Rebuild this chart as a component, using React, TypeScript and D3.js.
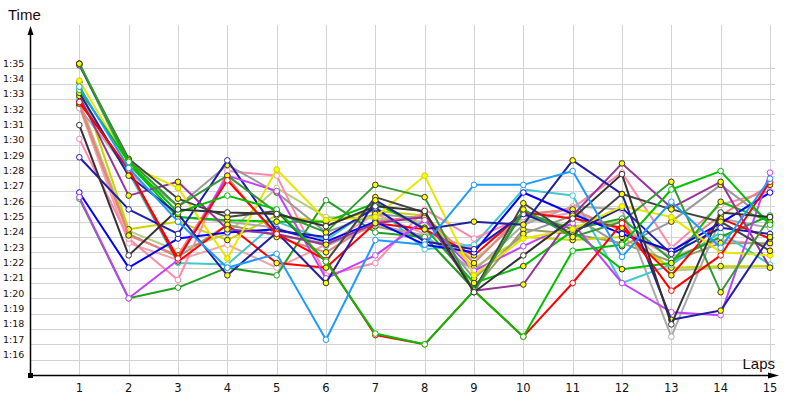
import React from "react";
import * as d3 from "d3";

const laps = [1, 2, 3, 4, 5, 6, 7, 8, 9, 10, 11, 12, 13, 14, 15];
const yTicks = [76, 77, 78, 79, 80, 81, 82, 83, 84, 85, 86, 87, 88, 89, 90, 91, 92, 93, 94, 95];
const fmt = (s: number) => `${Math.floor(s / 60)}:${String(Math.round(s % 60)).padStart(2, "0")}`;

// lap times in seconds (1:35.3 -> 95.3)
const lightBlue = [93.8, 88.5, 85.0, 82.0, 82.9, 77.3, 83.8, 83.5, 87.4, 87.4, 88.3, 82.7, 86.3, 83.3, 87.8];
const red = [92.8, 88.4, 82.6, 87.7, 84.2, 82.5, 77.6, 77.0, 80.5, 77.5, 81.0, 84.9, 80.5, 82.8, 87.6];
const green = [93.6, 88.9, 85.6, 86.7, 85.8, 82.4, 77.7, 77.0, 80.5, 77.5, 83.1, 83.5, 87.1, 88.3, 84.8];
const magenta = [86.6, 80.0, 82.5, 88.0, 87.0, 81.3, 82.8, 85.1, 81.8, 83.4, 84.9, 81.0, 79.1, 78.9, 88.2];
const purple = [93.2, 86.7, 87.6, 84.5, 84.2, 83.5, 84.9, 85.3, 80.5, 80.9, 85.4, 88.8, 85.9, 87.6, 82.0];
const navy = [89.2, 85.8, 84.2, 89.0, 84.4, 84.0, 85.9, 83.7, 83.2, 85.5, 84.3, 85.9, 82.9, 84.6, 84.2];
const navy2 = [93.4, 88.0, 85.5, 81.5, 84.3, 81.0, 86.4, 84.5, 85.0, 84.8, 89.0, 86.8, 78.6, 79.2, 84.0];
const blue = [86.9, 82.0, 83.9, 84.3, 84.5, 83.7, 85.0, 83.5, 83.0, 86.9, 85.5, 84.2, 83.1, 84.9, 86.9];
const darkGreen = [95.3, 89.0, 86.0, 88.0, 85.6, 84.3, 87.4, 86.6, 80.4, 85.8, 84.0, 85.0, 87.6, 80.4, 85.3];
const forest = [86.5, 80.0, 80.7, 82.0, 81.5, 86.4, 84.3, 84.0, 80.6, 85.6, 84.5, 85.2, 82.5, 84.0, 85.4];
const yellow = [94.2, 88.7, 87.2, 82.6, 88.4, 85.1, 85.3, 88.0, 81.5, 83.9, 84.5, 86.0, 85.3, 83.0, 82.8];
const yellowGreen = [94.1, 84.5, 85.0, 83.8, 85.4, 85.0, 85.7, 85.4, 82.0, 84.0, 83.8, 84.0, 82.0, 82.1, 82.1];
const pink = [90.4, 83.9, 81.2, 88.3, 88.0, 81.5, 82.3, 85.8, 83.9, 85.3, 85.9, 88.2, 83.3, 86.1, 87.0];
const lightPink = [92.5, 83.6, 82.5, 83.5, 82.0, 83.5, 85.5, 84.2, 83.3, 85.0, 85.6, 84.5, 82.7, 83.8, 83.5];
const salmon = [92.7, 84.1, 82.8, 87.9, 84.0, 83.0, 85.0, 85.4, 82.3, 85.5, 85.8, 84.4, 83.0, 85.4, 87.4];
const olive = [92.6, 84.2, 82.7, 84.8, 84.1, 83.6, 84.7, 84.0, 80.6, 84.5, 84.2, 83.6, 82.4, 83.6, 83.6];
const lightOlive = [92.9, 84.4, 83.1, 84.2, 87.2, 85.3, 85.2, 85.0, 82.5, 85.2, 84.7, 85.0, 81.8, 82.0, 82.1];
const gray = [95.3, 88.6, 86.0, 88.7, 86.9, 84.3, 85.5, 85.2, 81.3, 84.2, 85.4, 83.4, 85.0, 87.4, 85.0];
const lightGray = [92.4, 88.3, 85.3, 85.0, 84.6, 83.4, 84.8, 84.1, 81.8, 84.8, 86.0, 85.8, 77.5, 85.2, 84.6];
const darkGray = [95.2, 89.1, 86.5, 85.3, 85.7, 82.4, 86.6, 85.6, 80.5, 86.2, 84.1, 86.8, 85.8, 85.0, 83.1];
const black = [91.3, 82.8, 85.8, 85.6, 85.5, 84.7, 86.0, 85.7, 80.4, 82.8, 85.2, 88.1, 78.3, 85.6, 85.3];
const cyan = [93.0, 88.2, 82.3, 82.2, 85.0, 83.8, 86.0, 83.2, 83.5, 87.1, 86.7, 81.0, 82.2, 84.3, 82.2];
const red2 = [92.8, 88.4, 82.4, 84.8, 82.3, 82.0, 84.9, 84.5, 82.8, 85.6, 85.2, 84.6, 81.5, 85.2, 83.9];
const green2 = [95.3, 88.8, 85.3, 85.1, 85.0, 85.0, 86.2, 84.6, 81.0, 82.1, 84.4, 81.9, 82.3, 86.3, 85.0];

const seriesData = [
  lightPink, lightOlive, olive, yellowGreen, lightGray, cyan, pink, salmon, gray, forest,
  green2, red2, blue, navy, purple, magenta, yellow, darkGray, darkGreen, navy2,
  red, green, black, lightBlue,
];
const seriesColors = [
  "#F4A0A8", "#B4CC80", "#999966", "#CCD400", "#AAAAAA", "#40C8D0", "#FF88AA", "#F08080", "#999999", "#22A022",
  "#00C000", "#FF0000", "#0000FF", "#1C1CB0", "#993399", "#C040FF", "#E6E600", "#444444", "#339933", "#2020A0",
  "#FF0000", "#00C000", "#333333", "#1E9BFF",
];
const seriesFills = [
  "#fff", "#fff", "#ffff00", "#ffff00", "#fff", "#fff", "#fff", "#ffff00", "#ffff00", "#fff",
  "#ffff00", "#ffff00", "#fff", "#fff", "#ffff00", "#fff", "#ffff00", "#ffff00", "#ffff00", "#ffff00",
  "#fff", "#fff", "#fff", "#fff",
];

export default function App() {
  const W = 800, H = 400;
  const x = d3.scaleLinear().domain([0, 15]).range([30, 770]);
  const y = d3.scaleLinear().domain([75, 95]).range([375, 68.33]);
  const line = d3.line<number>().x((_, i) => x(laps[i])).y((d) => y(d));
  const labelFont = "'DejaVu Sans', Verdana, sans-serif";
  return (
    <svg width={W} height={H} style={{ position: "absolute", left: 0, top: 0, background: "#fff" }}>
      <rect x={0} y={0} width={W} height={H} fill="#fff" />
      {yTicks.map((t) => (
        <line key={"h" + t} x1={30} x2={775} y1={Math.round(y(t)) + 0.5} y2={Math.round(y(t)) + 0.5} stroke="#d2d2d2" />
      ))}
      {laps.map((l) => (
        <line key={"v" + l} x1={Math.round(x(l)) + 0.5} x2={Math.round(x(l)) + 0.5} y1={25} y2={375} stroke="#d2d2d2" />
      ))}
      {yTicks.map((t) => (
        <text key={"yl" + t} x={3} y={y(t) - 1.5} fontSize={9.5} fontFamily={labelFont} fill="#2a0c0c">
          {fmt(t)}
        </text>
      ))}
      {laps.map((l) => (
        <text key={"xl" + l} x={x(l)} y={392} fontSize={11.5} fontFamily={labelFont} textAnchor="middle" fill="#111">
          {l}
        </text>
      ))}
      {seriesData.map((s, i) => (
        <g key={"s" + i}>
          <path d={line(s) || ""} fill="none" stroke={seriesColors[i]} strokeWidth={2} strokeLinejoin="round" />
          {s.map((v, j) => (
            <circle key={j} cx={x(laps[j])} cy={y(v)} r={2.8} fill={seriesFills[i]} stroke={seriesColors[i] === "#E6E600" ? "#cccc00" : seriesFills[i] === "#ffff00" ? "#333" : seriesColors[i]} strokeWidth={1} />
          ))}
        </g>
      ))}
      <line x1={30.5} x2={30.5} y1={375} y2={32} stroke="#000" strokeWidth={1.5} />
      <path d="M30.5,26 L27.5,35 L33.5,35 Z" fill="#000" />
      <line x1={30} x2={770} y1={375.5} y2={375.5} stroke="#000" strokeWidth={1.5} />
      <path d="M779,375.5 L768,372.5 L768,378.5 Z" fill="#000" />
      <rect x={28} y={373} width={5} height={5} fill="#000" />
      <text x={8} y={20} fontSize={15} fontFamily="'Liberation Sans', Arial, sans-serif" fill="#1a0a0a">Time</text>
      <text x={775} y={369} fontSize={15} fontFamily="'Liberation Sans', Arial, sans-serif" textAnchor="end" fill="#1a0a0a">Laps</text>
    </svg>
  );
}
